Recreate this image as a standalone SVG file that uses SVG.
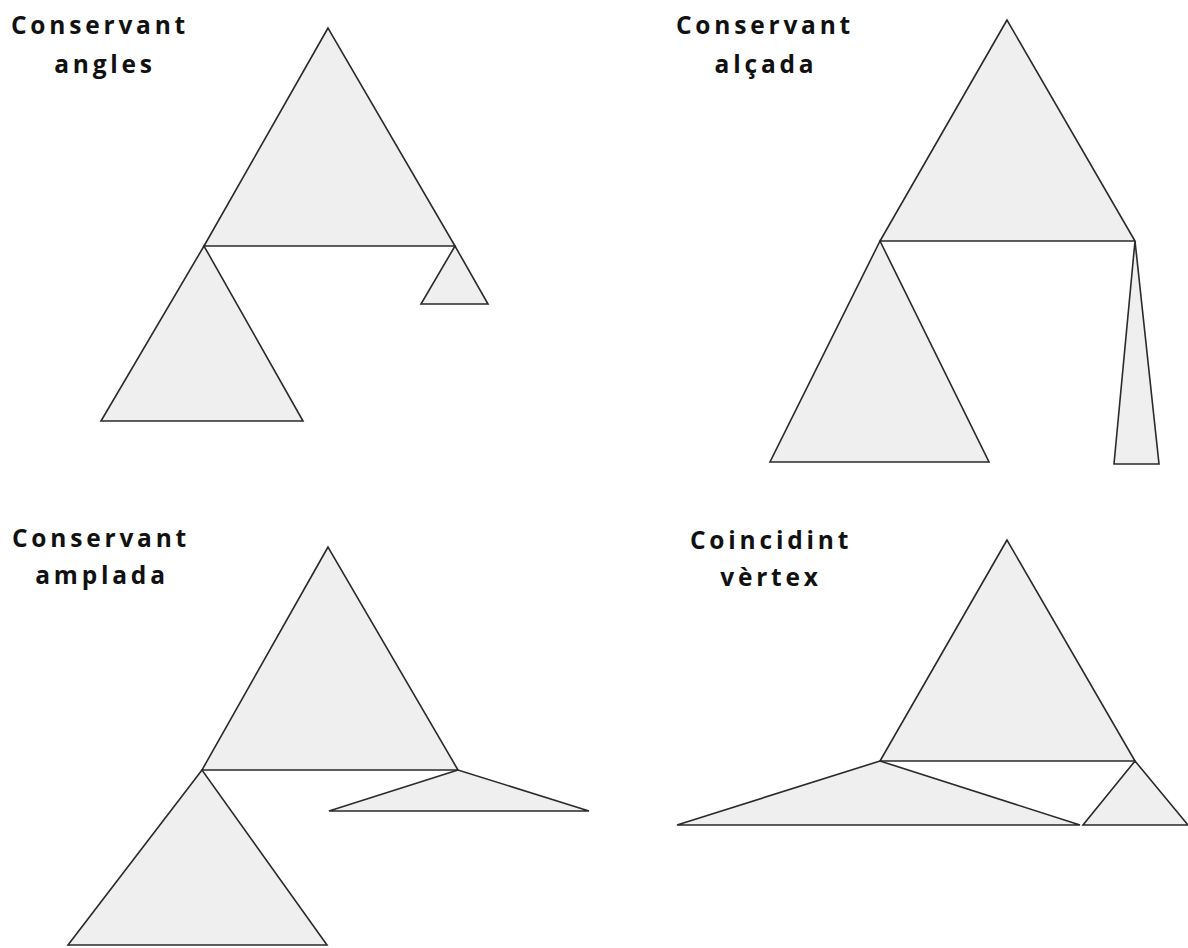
<svg xmlns="http://www.w3.org/2000/svg" width="1188" height="948" viewBox="0 0 1188 948">
<style>
.t{fill:#efefef;stroke:#2a2a2a;stroke-width:1.6;stroke-linejoin:miter}
.lbl{font-family:"Open Sans","Liberation Sans",sans-serif;font-weight:bold;font-size:24.5px;letter-spacing:3.8px;fill:#111;text-anchor:middle}
</style>
<rect width="1188" height="948" fill="#fff"/>
<g id="panel1">
<text class="lbl" x="100" y="34">Conservant</text>
<text class="lbl" x="105" y="73">angles</text>
<polygon class="t" points="328,28 204,246 455,246"/>
<polygon class="t" points="204,246 101,421 303,421"/>
<polygon class="t" points="455,246 421,304 488,304"/>
</g>
<g id="panel2">
<text class="lbl" x="765" y="34">Conservant</text>
<text class="lbl" x="766" y="73">alçada</text>
<polygon class="t" points="1007,20 880,241 1135,241"/>
<polygon class="t" points="880,241 770,462 989,462"/>
<polygon class="t" points="1135,241 1114,464 1159,464"/>
</g>
<g id="panel3">
<text class="lbl" x="101" y="547">Conservant</text>
<text class="lbl" x="102" y="584">amplada</text>
<polygon class="t" points="328,547 202,770 458,770"/>
<polygon class="t" points="202,770 68,945 327,945"/>
<polygon class="t" points="458,770 329,811 589,811"/>
</g>
<g id="panel4">
<text class="lbl" x="771" y="549">Coincidint</text>
<text class="lbl" x="771" y="586">vèrtex</text>
<polygon class="t" points="1007,540 880,761 1135,761"/>
<polygon class="t" points="880,761 677,825 1080,825"/>
<polygon class="t" points="1135,761 1083,825 1188,825"/>
</g>
</svg>
